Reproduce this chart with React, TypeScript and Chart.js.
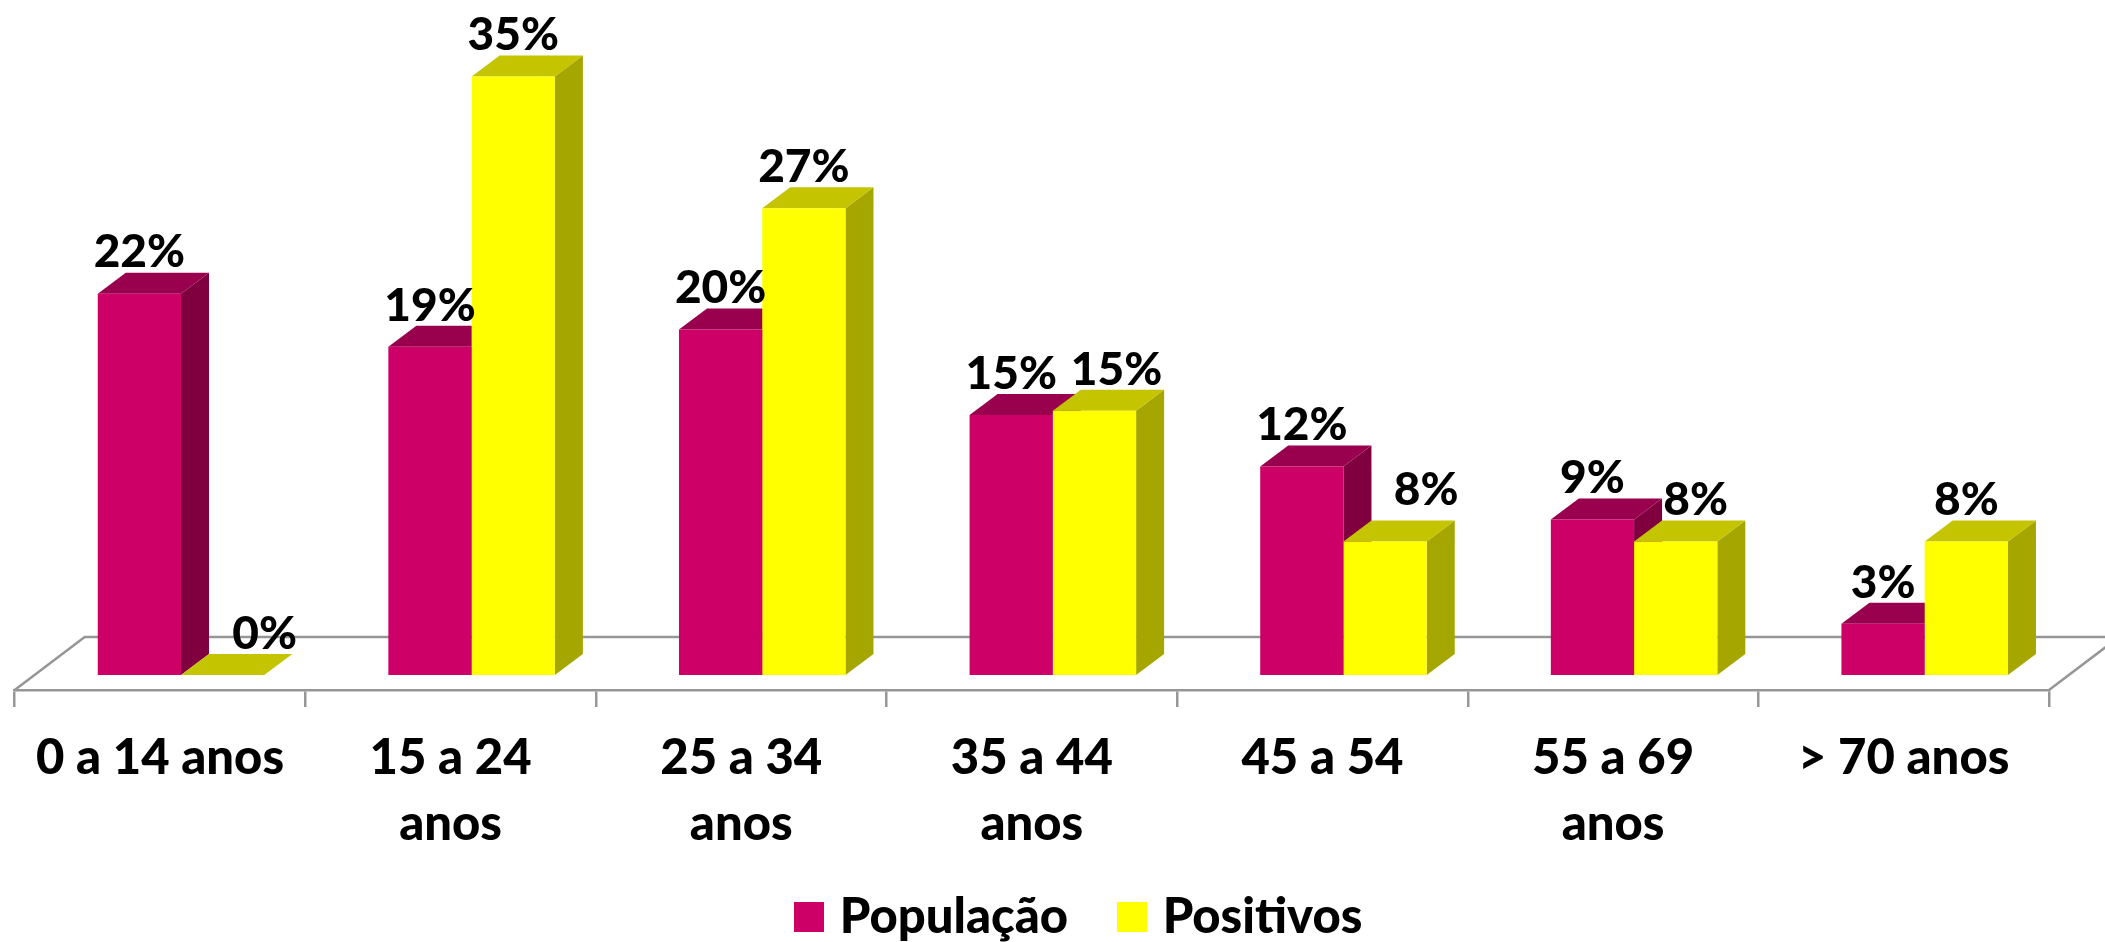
import React, { useEffect, useRef } from "react";
import { Chart, registerables } from "chart.js";

Chart.register(...registerables);

const categories = [
  ["0 a 14 anos"],
  ["15 a 24", "anos"],
  ["25 a 34", "anos"],
  ["35 a 44", "anos"],
  ["45 a 54"],
  ["55 a 69", "anos"],
  ["> 70 anos"],
];
const populacao = [22.3, 19.2, 20.2, 15.2, 12.2, 9.1, 3.0];
const positivos = [0, 35.0, 27.3, 15.45, 7.8, 7.8, 7.8];

const FONT = "Lato, Carlito, Calibri, sans-serif";
const GREY = "#969696";
const PINK = { front: "#CC0066", top: "#99004D", side: "#80003F" };
const YELLOW = { front: "#FFFF00", top: "#C4C400", side: "#A6A600" };
const shades = [PINK, YELLOW];

// 3D projection of the picture
const AXIS_Y = 690;
const BAR_SHIFT = { x: 21, y: -15 };
const BAR_DEPTH = { x: 28, y: 21 };
const FLOOR_DEPTH = { x: 70, y: 53 };
// Hand placement of data labels that would otherwise collide [dataset][category]
const labelNudge: Record<string, { x: number; y: number }> = {
  "1-0": { x: 42, y: 0 },
  "1-3": { x: 22, y: 0 },
  "1-4": { x: 41, y: 10 },
  "1-5": { x: 20, y: 0 },
};

function swatch(color: string) {
  const c = document.createElement("canvas");
  c.width = 30;
  c.height = 30;
  const g = c.getContext("2d")!;
  g.fillStyle = color;
  g.fillRect(0, 0, 30, 30);
  return c;
}

const pseudo3d = {
  id: "pseudo3d",
  afterLayout(chart: any) {
    const l = chart.legend;
    l.top = 835.5;
    l.left += 101;
    // let the two-line tick labels run past the axis box instead of being clipped
    chart.scales.x.bottom = chart.height;
  },
  beforeDatasetsDraw(chart: any) {
    const { ctx, scales } = chart;
    const x = scales.x;
    const yFront = x.top;
    ctx.save();
    ctx.strokeStyle = GREY;
    ctx.lineWidth = 2.5;
    ctx.beginPath();
    ctx.moveTo(x.left, yFront);
    ctx.lineTo(x.left + FLOOR_DEPTH.x, yFront - FLOOR_DEPTH.y);
    ctx.lineTo(x.right + FLOOR_DEPTH.x, yFront - FLOOR_DEPTH.y);
    ctx.lineTo(x.right, yFront);
    ctx.stroke();
    ctx.restore();

    ctx.save();
    ctx.translate(BAR_SHIFT.x, BAR_SHIFT.y);
    chart.data.datasets.forEach((_: any, d: number) => {
      chart.getDatasetMeta(d).data.forEach((bar: any) => {
        const p = bar.getProps(["x", "y", "base", "width"], true);
        const l = p.x - p.width / 2;
        const r = p.x + p.width / 2;
        ctx.fillStyle = shades[d].side;
        ctx.beginPath();
        ctx.moveTo(r, p.y);
        ctx.lineTo(r + BAR_DEPTH.x, p.y - BAR_DEPTH.y);
        ctx.lineTo(r + BAR_DEPTH.x, p.base - BAR_DEPTH.y);
        ctx.lineTo(r, p.base);
        ctx.closePath();
        ctx.fill();
        ctx.fillStyle = shades[d].top;
        ctx.beginPath();
        ctx.moveTo(l, p.y);
        ctx.lineTo(l + BAR_DEPTH.x, p.y - BAR_DEPTH.y);
        ctx.lineTo(r + BAR_DEPTH.x, p.y - BAR_DEPTH.y);
        ctx.lineTo(r, p.y);
        ctx.closePath();
        ctx.fill();
      });
    });
  },
  afterDatasetsDraw(chart: any) {
    const { ctx } = chart;
    ctx.restore();
    ctx.save();
    ctx.translate(BAR_SHIFT.x, BAR_SHIFT.y);
    ctx.font = `900 46px ${FONT}`;
    ctx.fillStyle = "#000";
    ctx.textAlign = "center";
    ctx.textBaseline = "middle";
    chart.data.datasets.forEach((ds: any, d: number) => {
      chart.getDatasetMeta(d).data.forEach((bar: any, i: number) => {
        const n = labelNudge[`${d}-${i}`] || { x: 0, y: 0 };
        ctx.fillText(`${Math.round(ds.data[i])}%`, bar.x + n.x, bar.y - 41 - n.y);
      });
    });
    ctx.restore();
  },
};

export default function App() {
  const ref = useRef<HTMLCanvasElement>(null);
  useEffect(() => {
    document.body.style.margin = "0";
    document.body.style.background = "#fff";
    const swatches = [swatch(PINK.front), swatch(YELLOW.front)];
    const chart = new Chart(ref.current!, {
      type: "bar",
      data: {
        labels: categories,
        datasets: [
          { label: "População", data: populacao, backgroundColor: PINK.front, clip: false },
          { label: "Positivos", data: positivos, backgroundColor: YELLOW.front, clip: false },
        ],
      },
      options: {
        animation: false,
        responsive: false,
        devicePixelRatio: 1,
        layout: { padding: { left: 14.7, right: 56, top: 6, bottom: 0 } },
        datasets: { bar: { categoryPercentage: 0.573, barPercentage: 1 } },
        scales: {
          x: {
            afterFit(scale: any) {
              const c = scale.chart;
              scale.height = c.height - AXIS_Y - (c.legend?.height || 0);
            },
            border: { color: GREY, width: 2.5 },
            grid: { display: true, drawOnChartArea: false, drawTicks: true, tickLength: 17, color: GREY, lineWidth: 2.5 },
            ticks: {
              autoSkip: false,
              maxRotation: 0,
              padding: 18,
              color: "#000",
              font: { family: FONT, size: 49, weight: "900", lineHeight: 1.35 },
            },
          },
          y: { display: false, min: 0, max: 40 },
        },
        plugins: {
          tooltip: { enabled: false },
          legend: {
            position: "bottom",
            labels: {
              usePointStyle: true,
              pointStyleWidth: 13,
              boxHeight: 30,
              padding: 57,
              color: "#000",
              font: { family: FONT, size: 49, weight: "900" },
              generateLabels(c: any) {
                const items = (Chart.defaults as any).plugins.legend.labels.generateLabels(c);
                items.forEach((it: any) => {
                  it.pointStyle = swatches[it.datasetIndex];
                });
                return items;
              },
            },
          },
        },
      },
      plugins: [pseudo3d],
    } as any);
    return () => chart.destroy();
  }, []);
  return (
    <div style={{ position: "absolute", left: 0, top: 0, width: 2105, height: 942, background: "#fff" }}>
      <canvas ref={ref} width={2105} height={942} style={{ display: "block" }} />
    </div>
  );
}
